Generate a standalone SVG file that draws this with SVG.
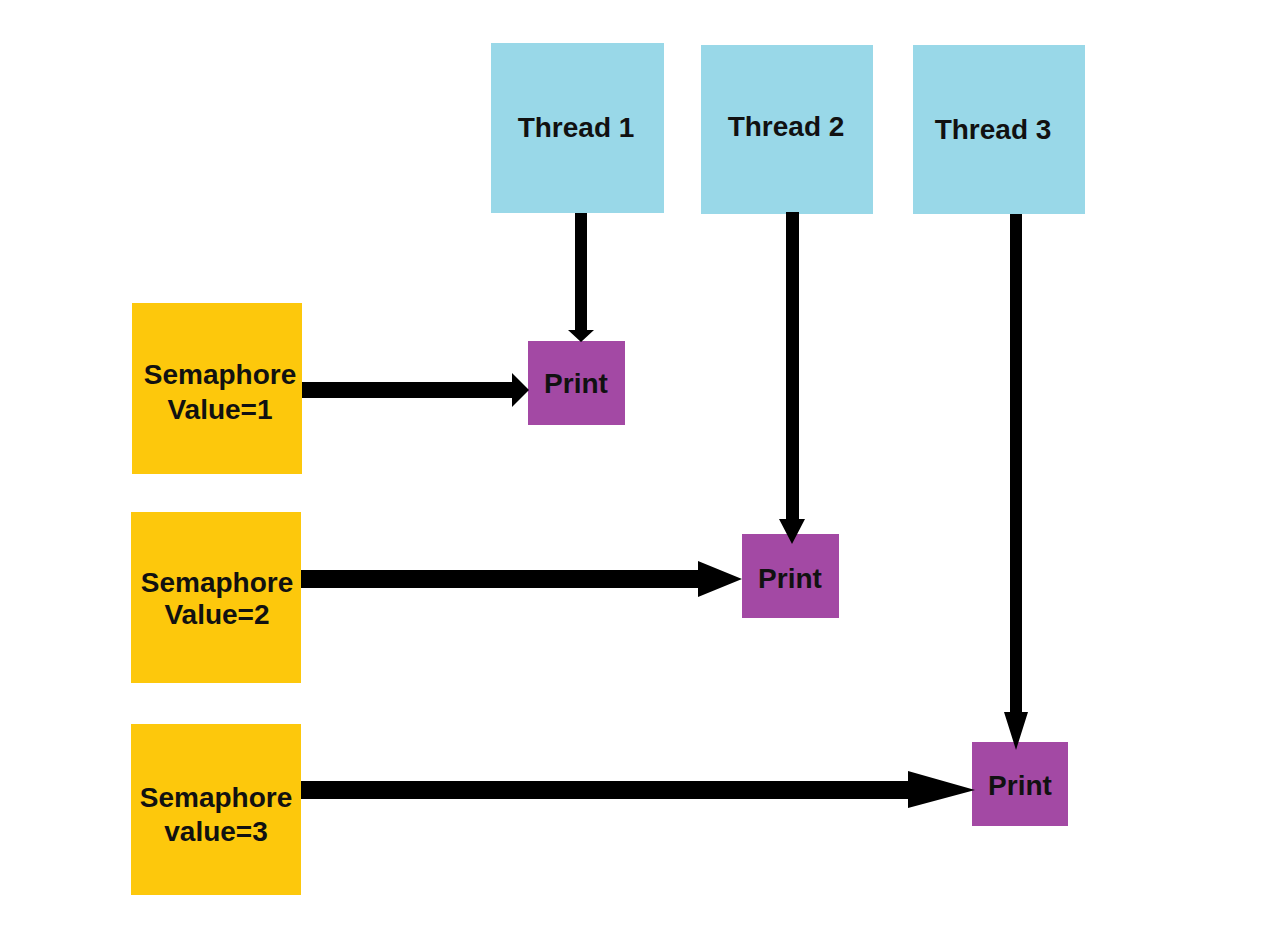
<svg xmlns="http://www.w3.org/2000/svg" width="1280" height="938" viewBox="0 0 1280 938">
<style>
.thread{fill:#99D8E8}
.sem{fill:#FDC80C}
.print{fill:#A349A4}
.lbl{font-weight:bold;font-size:28px;fill:#111;text-anchor:middle}
.conn{fill:#000}
</style>
<rect width="1280" height="938" fill="#fff"/>
<g font-family="'Liberation Sans', Arimo, Arial, sans-serif">
<g id="thread1"><rect class="thread" x="491" y="43" width="173" height="170"/><text class="lbl" x="576" y="137">Thread 1</text></g>
<g id="thread2"><rect class="thread" x="701" y="45" width="172" height="169"/><text class="lbl" x="786" y="136">Thread 2</text></g>
<g id="thread3"><rect class="thread" x="913" y="45" width="172" height="169"/><text class="lbl" x="993" y="139">Thread 3</text></g>
<g id="sem1"><rect class="sem" x="132" y="303" width="170" height="171"/><text class="lbl" x="220" y="384">Semaphore</text><text class="lbl" x="220" y="419">Value=1</text></g>
<g id="sem2"><rect class="sem" x="131" y="512" width="170" height="171"/><text class="lbl" x="217" y="592">Semaphore</text><text class="lbl" x="217" y="624">Value=2</text></g>
<g id="sem3"><rect class="sem" x="131" y="724" width="170" height="171"/><text class="lbl" x="216" y="807">Semaphore</text><text class="lbl" x="216" y="841">value=3</text></g>
<g id="print1"><rect class="print" x="528" y="341" width="97" height="84"/><text class="lbl" x="576" y="393">Print</text></g>
<g id="print2"><rect class="print" x="742" y="534" width="97" height="84"/><text class="lbl" x="790" y="588">Print</text></g>
<g id="print3"><rect class="print" x="972" y="742" width="96" height="84"/><text class="lbl" x="1020" y="795">Print</text></g>
</g>
<g id="connectors" class="conn">
<polygon points="575,213 587,213 587,330 594,330 581,342 568,330 575,330"/>
<polygon points="786,212 799,212 799,519 805,519 792,544 779,519 786,519"/>
<polygon points="1010,214 1022,214 1022,712 1028,712 1016,750 1004,712 1010,712"/>
<polygon points="302,382 512,382 512,373 529,390 512,407 512,398 302,398"/>
<polygon points="301,570 698,570 698,561 742,579 698,597 698,588 301,588"/>
<polygon points="301,781 908,781 908,771 975,790 908,808 908,799 301,799"/>
</g>
</svg>
